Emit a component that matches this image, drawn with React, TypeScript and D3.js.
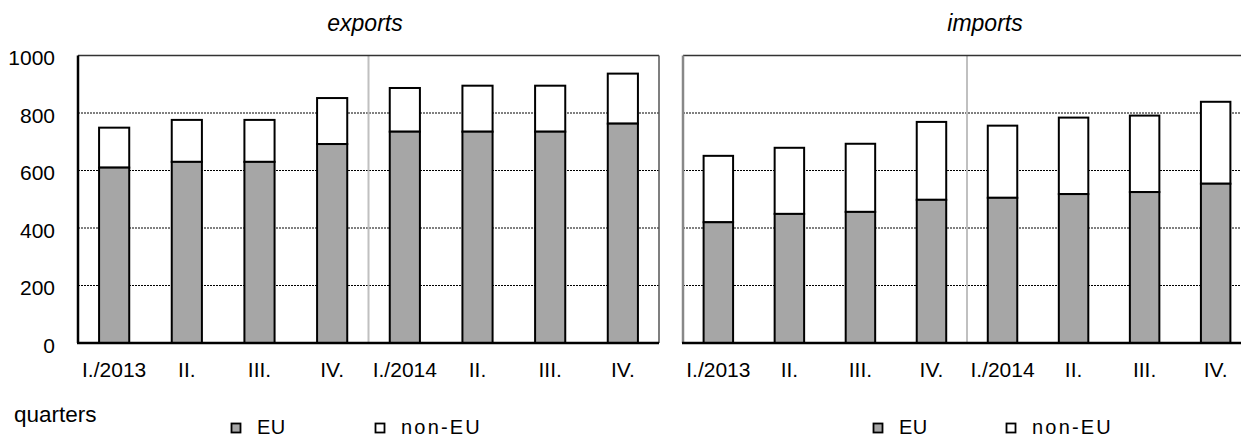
import * as d3 from 'd3';

const quarters = ['I./2013', 'II.', 'III.', 'IV.', 'I./2014', 'II.', 'III.', 'IV.'];
const yTicks = [0, 200, 400, 600, 800, 1000];

// exports, EU part and total
const exportsEU = [610, 630, 630, 692, 735, 735, 735, 763];
const exportsTotal = [749, 776, 776, 852, 887, 895, 895, 937];

// imports, EU part and total
const importsEU = [420, 449, 456, 498, 505, 518, 525, 554];
const importsTotal = [651, 679, 693, 769, 756, 784, 791, 839];

const legendItems = ['EU', 'non-EU'];

const FONT = 'Liberation Sans, Arial, sans-serif';
const EU_FILL = '#a6a6a6';

const yScale = d3.scaleLinear().domain([0, 1000]).range([343, 55.5]);

type PanelProps = {
  title: string;
  titleX: number;
  eu: number[];
  total: number[];
  x0: number;
  x1: number;
  showLeftAxis: boolean;
};

const Panel = ({ title, titleX, eu, total, x0, x1, showLeftAxis }: PanelProps) => {
  const idx = quarters.map((_, i) => String(i));
  const x = d3.scaleBand<string>().domain(idx).range([x0, x1]).paddingInner(0.585).paddingOuter(0.29);
  const band = (x1 - x0) / quarters.length;
  const bw = x.bandwidth();
  const sepX = x0 + band * 4;
  const y0 = yScale(0);
  const yTop = yScale(1000);

  return (
    <g>
      <text x={titleX} y={31} textAnchor="middle" fontStyle="italic" fontSize={23} fontFamily={FONT}>
        {title}
      </text>

      {/* dotted grid */}
      {yTicks.slice(1).map((t) => (
        <line
          key={t}
          x1={x0}
          x2={x1}
          y1={yScale(t)}
          y2={yScale(t)}
          stroke="#000"
          strokeWidth={1}
          strokeDasharray="2,1"
        />
      ))}

      {/* year separator */}
      <line x1={sepX} x2={sepX} y1={yTop} y2={y0} stroke="#c0c0c0" strokeWidth={2} />

      {/* frame */}
      <line x1={x0} x2={x1} y1={yTop} y2={yTop} stroke="#333" strokeWidth={1.5} />
      <line x1={x1} x2={x1} y1={yTop} y2={y0} stroke="#555" strokeWidth={1.5} />

      {eu.map((v, i) => (
        <g key={i}>
          <rect
            x={x(String(i))}
            y={yScale(total[i])}
            width={bw}
            height={yScale(v) - yScale(total[i])}
            fill="#fff"
            stroke="#000"
            strokeWidth={2}
          />
          <rect
            x={x(String(i))}
            y={yScale(v)}
            width={bw}
            height={y0 - yScale(v)}
            fill={EU_FILL}
            stroke="#000"
            strokeWidth={2}
          />
        </g>
      ))}

      {/* axes */}
      <line
        x1={x0}
        x2={x0}
        y1={yTop}
        y2={y0}
        stroke={showLeftAxis ? '#000' : '#888'}
        strokeWidth={2.5}
      />
      <line x1={x0 - 1} x2={x1} y1={y0} y2={y0} stroke="#000" strokeWidth={2.5} />

      {quarters.map((q, i) => (
        <text
          key={i}
          x={(x(String(i)) ?? 0) + bw / 2}
          y={377}
          textAnchor="middle"
          fontSize={21}
          fontFamily={FONT}
        >
          {q}
        </text>
      ))}

      {showLeftAxis &&
        yTicks.map((t) => (
          <text
            key={t}
            x={55}
            y={yScale(t) + 9.5}
            textAnchor="end"
            fontSize={21}
            fontFamily={FONT}
          >
            {t}
          </text>
        ))}
    </g>
  );
};

// xs = centres of the legend swatches
const Legend = ({ xs }: { xs: number[] }) => (
  <g>
    {legendItems.map((name, i) => (
      <g key={name} transform={`translate(${xs[i]},0)`}>
        <rect
          x={-4.5}
          y={423.5}
          width={9}
          height={9}
          fill={i === 0 ? EU_FILL : '#fff'}
          stroke="#000"
          strokeWidth={1.8}
        />
        <text
          x={21}
          y={434}
          fontSize={20}
          letterSpacing={i === 0 ? 0.5 : 2.2}
          fontFamily={FONT}
        >
          {name}
        </text>
      </g>
    ))}
  </g>
);

export default function App() {
  return (
    <svg
      width={1241}
      height={438}
      style={{ position: 'absolute', left: 0, top: 0, background: '#fff' }}
    >
      <Panel
        title="exports"
        titleX={365}
        eu={exportsEU}
        total={exportsTotal}
        x0={78}
        x1={659}
        showLeftAxis
      />
      <Panel
        title="imports"
        titleX={985}
        eu={importsEU}
        total={importsTotal}
        x0={683}
        x1={1251}
        showLeftAxis={false}
      />
      <text x={14} y={422} fontSize={22.5} fontFamily={FONT}>
        quarters
      </text>
      <Legend xs={[236, 380]} />
      <Legend xs={[878, 1011]} />
    </svg>
  );
}
